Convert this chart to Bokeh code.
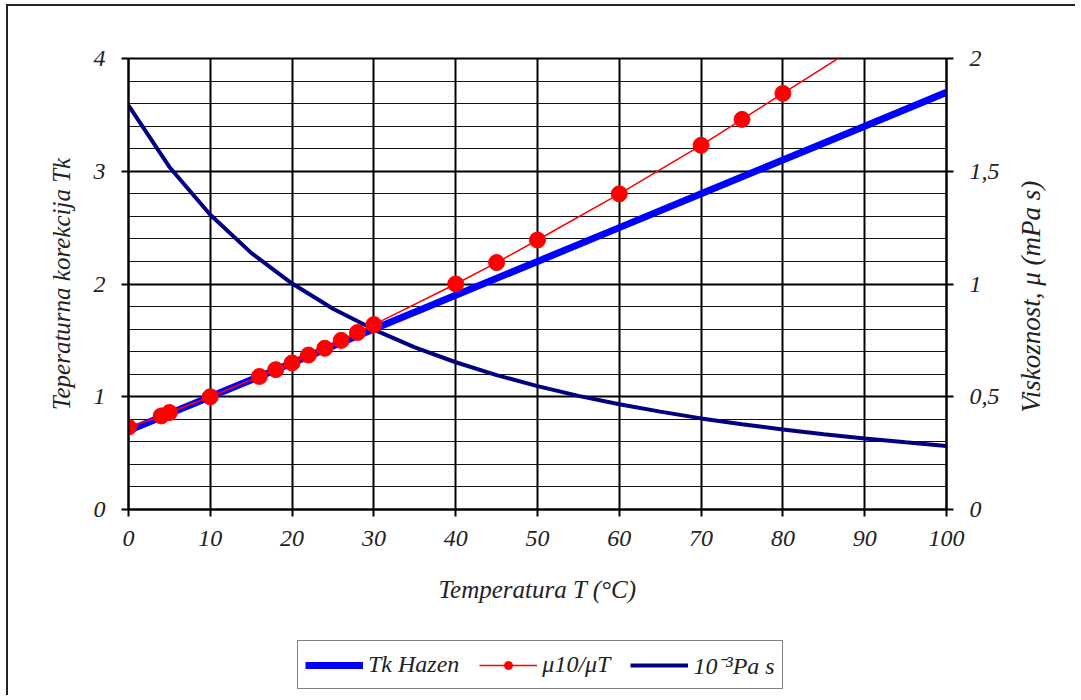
import math
from bokeh.plotting import figure
from bokeh.layouts import column, row
from bokeh.models import (Range1d, LinearAxis, FixedTicker, CustomJSTickFormatter,
                          Legend, LegendItem, Label)
from bokeh.embed import file_html
from bokeh.resources import INLINE

# ---------------- data ----------------
T_hazen = [0, 10, 20, 30, 40, 50, 60, 70, 80, 90, 100]
Tk_hazen = [0.70, 1.00, 1.30, 1.60, 1.90, 2.20, 2.50, 2.80, 3.10, 3.40, 3.70]

T_ratio = [0, 4, 5, 10, 16, 18, 20, 22, 24, 26, 28, 30, 40, 45, 50, 60, 70, 75, 80, 90, 100]
mu_ratio = [0.73, 0.83, 0.86, 1.00, 1.18, 1.24, 1.30, 1.37, 1.43, 1.50, 1.57, 1.64,
            2.00, 2.19, 2.39, 2.80, 3.23, 3.46, 3.69, 4.15, 4.63]

T_visc = [0, 5, 10, 15, 20, 25, 30, 35, 40, 45, 50, 55, 60, 65, 70, 75, 80, 85, 90, 95, 100]
visc = [1.792, 1.519, 1.307, 1.138, 1.002, 0.890, 0.798, 0.719, 0.653, 0.596, 0.547,
        0.504, 0.467, 0.434, 0.404, 0.378, 0.355, 0.334, 0.315, 0.298, 0.282]

x_ticks = [0, 10, 20, 30, 40, 50, 60, 70, 80, 90, 100]
left_ticks = [0, 1, 2, 3, 4]
left_minor = [i * 0.2 for i in range(21)]
right_ticks = [0, 0.5, 1, 1.5, 2]

labels = ["Tk Hazen", "\u03bc10/\u03bcT", "10\u207b\u00b3Pa s"]
x_title = "Temperatura T (\u00b0C)"
y_title = "Teperaturna korekcija Tk"
y2_title = "Viskoznost, \u03bc (mPa s)"

FONT = "Liberation Serif"
TXT = "#222222"

# ---------------- main chart ----------------
P_H = 619
p = figure(width=1002, height=P_H, output_backend="svg", toolbar_location=None,
           x_range=Range1d(0, 100), y_range=Range1d(0, 4),
           frame_width=818, frame_height=451,
           min_border_left=120, min_border_right=64, min_border_top=52, min_border_bottom=116)
p.outline_line_color = "black"
p.outline_line_width = 2
p.background_fill_color = "white"
p.border_fill_color = "white"

p.extra_y_ranges = {"visc": Range1d(0, 2)}

p.xgrid.ticker = FixedTicker(ticks=x_ticks)
p.xgrid.grid_line_color = "black"
p.xgrid.grid_line_width = 2
p.ygrid.ticker = FixedTicker(ticks=left_ticks, minor_ticks=left_minor)
p.ygrid.grid_line_color = "black"
p.ygrid.grid_line_width = 2
p.ygrid.minor_grid_line_color = "#111111"
p.ygrid.minor_grid_line_width = 1.2


def style_axis(ax):
    ax.axis_line_color = "black"
    ax.axis_line_width = 2
    ax.major_tick_line_color = "black"
    ax.major_tick_line_width = 2
    ax.major_tick_out = 7
    ax.major_tick_in = 0
    ax.minor_tick_line_color = None
    ax.major_label_text_font = FONT
    ax.major_label_text_font_style = "italic"
    ax.major_label_text_font_size = "24px"
    ax.major_label_text_color = TXT
    ax.axis_label_text_font = FONT
    ax.axis_label_text_font_style = "italic"
    ax.axis_label_text_font_size = "25px"
    ax.axis_label_text_color = TXT


xa = p.xaxis[0]
xa.ticker = FixedTicker(ticks=x_ticks)
style_axis(xa)
xa.major_label_standoff = 14
xa.axis_label = x_title
xa.axis_label_standoff = 27

ya = p.yaxis[0]
ya.ticker = FixedTicker(ticks=left_ticks)
style_axis(ya)
ya.major_label_standoff = 16
ya.axis_label = y_title
ya.axis_label_standoff = 16

ra = LinearAxis(y_range_name="visc", ticker=FixedTicker(ticks=right_ticks))
style_axis(ra)
ra.major_label_standoff = 16
ra.formatter = CustomJSTickFormatter(code="return tick.toString().replace('.', ',');")
p.add_layout(ra, "right")


def draw_series(fig, **kw):
    rv = fig.line(T_visc, visc, line_color="#000080", line_width=4, **kw.get("visc", {}))
    rh = fig.line(T_hazen, Tk_hazen, line_color="#0000FF", line_width=7)
    rl = fig.line(T_ratio, mu_ratio, line_color="#FF0000", line_width=1.5)
    rc = fig.scatter(T_ratio, mu_ratio, marker="circle", size=16,
                     fill_color="#FF0000", line_color="#FF0000")
    return rv, rh, rl, rc


draw_series(p, visc={"y_range_name": "visc"})

# ---------------- right axis title (own strip) ----------------
rt = figure(width=65, height=P_H, output_backend="svg", toolbar_location=None,
            x_range=Range1d(0, 65), y_range=Range1d(0, P_H),
            x_axis_location=None, y_axis_location=None, min_border=0)
rt.outline_line_color = None
rt.grid.visible = False
rt.border_fill_color = "white"
rt.add_layout(Label(x=20, y=292, text=y2_title, angle=math.pi / 2,
                    text_align="center", text_baseline="middle",
                    text_font=FONT, text_font_style="italic", text_font_size="27px",
                    text_color=TXT))

# ---------------- legend strip (same series, viewed far off-range) ----------------
LG_H = 70
lg = figure(width=1067, height=LG_H, output_backend="svg", toolbar_location=None,
            x_range=Range1d(-300, -200), y_range=Range1d(-300, -200),
            x_axis_location=None, y_axis_location=None, min_border=0)
lg.outline_line_color = None
lg.grid.visible = False
g_visc, g_hazen, g_ratio_l, g_ratio_c = draw_series(lg)

legend = Legend(items=[LegendItem(label=labels[0], renderers=[g_hazen]),
                       LegendItem(label=labels[1], renderers=[g_ratio_l, g_ratio_c]),
                       LegendItem(label=labels[2], renderers=[g_visc])],
                location=(289, 6), orientation="horizontal")
legend.border_line_color = "black"
legend.border_line_width = 1
legend.background_fill_color = "white"
legend.label_text_font = FONT
legend.label_text_font_style = "italic"
legend.label_text_font_size = "24px"
legend.label_text_color = TXT
legend.glyph_width = 58
legend.label_standoff = 5
legend.spacing = 20
legend.padding = 7
legend.margin = 0
lg.add_layout(legend, "center")

layout = column(row(p, rt, spacing=0), lg, spacing=0)
layout.styles = {"border-left": "2px solid #222", "border-top": "2px solid #222",
                 "margin-left": "6px", "margin-top": "4px"}

open("out.html", "w").write(file_html(layout, INLINE))
